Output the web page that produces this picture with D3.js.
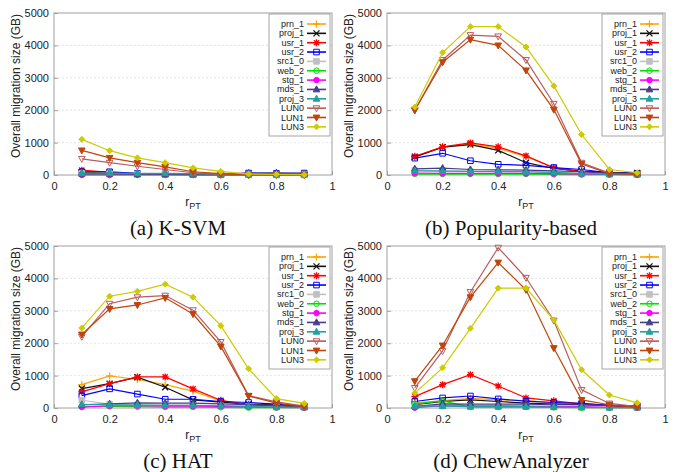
<!DOCTYPE html>
<html lang="en">
<head>
  <meta charset="UTF-8" />
  <title>Overall migration size vs r_PT</title>
  <style>
    body { margin: 0; background: #fff; }
    .tick-label { font-family: "Liberation Sans", Arial, sans-serif; font-size: 11px; fill: #222; }
    .ylab { font-family: "Liberation Sans", Arial, sans-serif; font-size: 12px; fill: #222; }
    .leg { font-family: "Liberation Sans", Arial, sans-serif; font-size: 9px; fill: #222; }
    .caption { font-family: "Liberation Serif", "Times New Roman", serif; font-size: 21px; fill: #111; }
  </style>
</head>
<body>
  <svg id="chart"></svg>

  <script src="https://d3js.org/d3.v7.min.js"></script>
  <script>
    // x positions (r_PT) and series names
    const rPT = [0.1, 0.2, 0.3, 0.4, 0.5, 0.6, 0.7, 0.8, 0.9];
    const seriesNames = ["prn_1", "proj_1", "usr_1", "usr_2", "src1_0", "web_2",
                         "stg_1", "mds_1", "proj_3", "LUN0", "LUN1", "LUN3"];
    const yTicks = [0, 1000, 2000, 3000, 4000, 5000];
    const xTicks = [0, 0.2, 0.4, 0.6, 0.8, 1];

    // values per panel, one row per series (same order as seriesNames)
    const ksvmValues = [
      [80, 40, 30, 20, 10, 10, 10, 10, 10],
      [80, 50, 30, 20, 10, 10, 10, 10, 10],
      [150, 80, 40, 30, 20, 10, 10, 10, 10],
      [100, 100, 50, 40, 30, 20, 60, 50, 60],
      [50, 40, 30, 30, 20, 20, 10, 10, 10],
      [20, 20, 20, 20, 10, 10, 10, 10, 10],
      [0, 0, 0, 0, 0, 0, 0, 0, 0],
      [40, 40, 30, 30, 30, 30, 60, 70, 40],
      [60, 60, 50, 50, 40, 30, 30, 20, 20],
      [500, 380, 270, 170, 70, 20, 10, 10, 10],
      [760, 530, 380, 250, 100, 40, 10, 10, 10],
      [1100, 750, 530, 380, 220, 110, 30, 20, 10]
    ];
    const popValues = [
      [550, 860, 960, 820, 570, 230, 100, 50, 30],
      [560, 860, 940, 760, 380, 200, 120, 80, 60],
      [580, 870, 990, 870, 590, 220, 100, 60, 30],
      [520, 670, 440, 330, 300, 230, 170, 70, 50],
      [150, 130, 110, 100, 100, 80, 60, 30, 20],
      [30, 30, 30, 30, 30, 20, 10, 10, 10],
      [60, 50, 50, 50, 50, 40, 30, 20, 10],
      [190, 210, 170, 160, 150, 130, 100, 60, 40],
      [130, 120, 110, 110, 100, 80, 40, 20, 10],
      [2000, 3550, 4320, 4280, 3550, 2200, 380, 60, 30],
      [2000, 3480, 4180, 4000, 3230, 2020, 340, 40, 20],
      [2100, 3780, 4580, 4580, 3950, 2750, 1250, 170, 70]
    ];
    const hatValues = [
      [720, 990, 880, 720, 520, 220, 100, 50, 30],
      [600, 750, 950, 640, 250, 180, 120, 100, 60],
      [500, 750, 960, 960, 590, 240, 100, 60, 30],
      [380, 590, 430, 270, 270, 200, 170, 120, 40],
      [240, 120, 100, 90, 80, 70, 50, 30, 20],
      [50, 50, 40, 30, 30, 20, 10, 10, 10],
      [30, 70, 70, 60, 60, 50, 40, 20, 10],
      [100, 130, 160, 150, 150, 130, 100, 80, 30],
      [110, 100, 90, 80, 80, 70, 50, 30, 20],
      [2200, 3220, 3420, 3470, 3020, 2040, 380, 190, 60],
      [2270, 3060, 3180, 3400, 2900, 1900, 370, 150, 40],
      [2470, 3450, 3600, 3820, 3420, 2540, 1210, 290, 140]
    ];
    const chewValues = [
      [150, 230, 300, 250, 230, 150, 110, 60, 30],
      [100, 200, 250, 200, 150, 120, 100, 80, 50],
      [350, 720, 1030, 680, 310, 220, 130, 80, 30],
      [200, 310, 370, 280, 210, 170, 140, 80, 60],
      [80, 60, 50, 50, 40, 30, 20, 10, 10],
      [130, 220, 30, 30, 30, 20, 10, 10, 10],
      [10, 70, 70, 70, 60, 50, 40, 20, 10],
      [50, 130, 120, 120, 120, 100, 100, 80, 50],
      [60, 60, 40, 40, 40, 30, 20, 10, 10],
      [620, 1760, 3580, 4950, 4020, 2700, 560, 140, 40],
      [830, 1930, 3420, 4490, 3650, 1850, 250, 100, 20],
      [460, 1240, 2460, 3700, 3700, 2720, 1180, 400, 160]
    ];

    const colors = ["#ffa500", "#111111", "#ff0000", "#0000ff", "#c0c0c0", "#00e000",
                    "#ff00ff", "#483d8b", "#20a0a0", "#b85c5c", "#c0440c", "#cccc00"];
    const shapes = ["plus", "cross", "star", "sqOpen", "sqFill", "circOpen",
                    "circFill", "triUp", "triUp", "triDownOpen", "triDownFill", "diamond"];

    const shapePath = {
      plus: "M-3.5,0H3.5M0,-3.5V3.5",
      cross: "M-3,-3L3,3M-3,3L3,-3",
      star: "M-3.5,0H3.5M0,-3.5V3.5M-2.6,-2.6L2.6,2.6M-2.6,2.6L2.6,-2.6",
      sqOpen: "M-2.8,-2.8H2.8V2.8H-2.8Z",
      sqFill: "M-2.8,-2.8H2.8V2.8H-2.8Z",
      circOpen: d3.symbol(d3.symbolCircle, 24)(),
      circFill: d3.symbol(d3.symbolCircle, 24)(),
      triUp: "M0,-3.6L3.3,2.4H-3.3Z",
      triDownOpen: "M0,3.6L3.3,-2.4H-3.3Z",
      triDownFill: "M0,3.6L3.3,-2.4H-3.3Z",
      diamond: "M0,-3L3,0L0,3L-3,0Z"
    };
    const openShape = s => ["plus", "cross", "star", "sqOpen", "circOpen", "triDownOpen"].includes(s);
    const strokeOnly = s => ["plus", "cross", "star"].includes(s);

    const panels = [
      { values: ksvmValues, caption: "(a) K-SVM", left: 54, top: 13 },
      { values: popValues, caption: "(b) Popularity-based", left: 387, top: 13 },
      { values: hatValues, caption: "(c) HAT", left: 54, top: 246 },
      { values: chewValues, caption: "(d) ChewAnalyzer", left: 387, top: 246 }
    ];
    const pw = 278, ph = 162;

    const svg = d3.select("#chart").attr("width", 678).attr("height", 472);

    function drawMarker(sel, i) {
      sel.attr("d", shapePath[shapes[i]])
        .attr("stroke", colors[i])
        .attr("stroke-width", strokeOnly(shapes[i]) ? 1.3 : 1)
        .attr("fill", openShape(shapes[i]) ? "none" : colors[i]);
    }

    panels.forEach(p => {
      const g = svg.append("g").attr("transform", `translate(${p.left},${p.top})`);
      const x = d3.scaleLinear().domain([0, 1]).range([0, pw]);
      const y = d3.scaleLinear().domain([0, 5000]).range([ph, 0]);

      // grid
      g.selectAll(".grid").data(yTicks.slice(1, -1)).join("line")
        .attr("x1", 0).attr("x2", pw)
        .attr("y1", d => y(d)).attr("y2", d => y(d))
        .attr("stroke", "#dddddd").attr("stroke-width", 0.8)
        .attr("stroke-dasharray", "2,2");

      // frame
      g.append("rect").attr("width", pw).attr("height", ph)
        .attr("fill", "none").attr("stroke", "#a0a0a0").attr("stroke-width", 1);

      // axes
      const yAxis = d3.axisLeft(y).tickValues(yTicks).tickSize(-4).tickPadding(5)
        .tickFormat(d3.format("d"));
      const xAxis = d3.axisBottom(x).tickValues(xTicks).tickSize(-4).tickPadding(7)
        .tickFormat(d3.format("~g"));
      const ya = g.append("g").call(yAxis);
      const xa = g.append("g").attr("transform", `translate(0,${ph})`).call(xAxis);
      [ya, xa].forEach(a => {
        a.select(".domain").remove();
        a.selectAll(".tick line").attr("stroke", "#a0a0a0");
        a.selectAll(".tick text").attr("class", "tick-label").attr("fill", null);
      });

      g.append("text").attr("class", "ylab")
        .attr("transform", `translate(-34,${ph / 2 - 8}) rotate(-90)`)
        .attr("text-anchor", "middle")
        .text("Overall migration size (GB)");

      const xl = g.append("text").attr("class", "ylab")
        .attr("x", pw / 2).attr("y", ph + 31).attr("text-anchor", "middle");
      xl.append("tspan").text("r");
      xl.append("tspan").attr("dy", 3).attr("font-size", "9px").text("PT");

      svg.append("text").attr("class", "caption")
        .attr("x", p.left + pw / 2 - 15).attr("y", p.top + ph + 60)
        .attr("text-anchor", "middle").text(p.caption);

      // series
      const line = d3.line().x((d, j) => x(rPT[j])).y(d => y(d));
      p.values.forEach((vals, i) => {
        g.append("path").datum(vals)
          .attr("d", line).attr("fill", "none")
          .attr("stroke", colors[i]).attr("stroke-width", 1.2);
        g.selectAll(null).data(vals).join("path")
          .attr("transform", (d, j) => `translate(${x(rPT[j])},${y(d)})`)
          .call(drawMarker, i);
      });

      // legend
      const lg = g.append("g").attr("transform", `translate(${pw - 63},1)`);
      lg.append("rect").attr("width", 61).attr("height", 122)
        .attr("fill", "#fff").attr("stroke", "#909090").attr("stroke-width", 0.8);
      seriesNames.forEach((name, i) => {
        const ry = 10 + i * 9.35;
        lg.append("text").attr("class", "leg").attr("x", 35).attr("y", ry + 3)
          .attr("text-anchor", "end").text(name);
        lg.append("line").attr("x1", 38).attr("x2", 57).attr("y1", ry).attr("y2", ry)
          .attr("stroke", colors[i]).attr("stroke-width", 1.6);
        lg.append("path").attr("transform", `translate(47.5,${ry})`).call(drawMarker, i);
      });
    });
  </script>
</body>
</html>
